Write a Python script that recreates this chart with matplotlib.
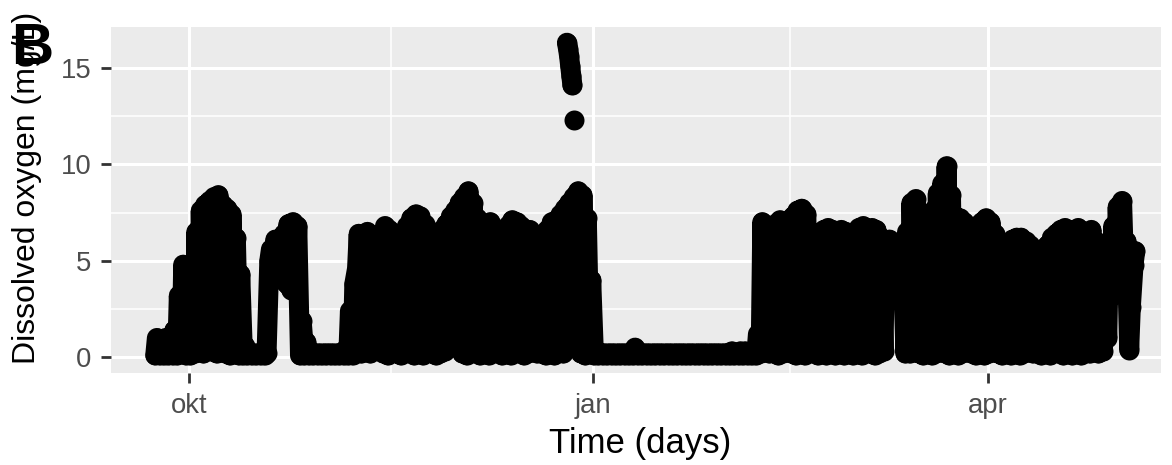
import numpy as np
import matplotlib
matplotlib.use("Agg")
import matplotlib.pyplot as plt

plt.rcParams['font.family'] = ['Liberation Sans', 'DejaVu Sans']

# daily readings, dissolved oxygen (mg/L), starting 2016-09-23
first_day = np.datetime64("2016-09-23")

do_high = [
    # sep 23-30
    1.0, 0.7, 1.0, 0.5, 1.4, 3.2, 4.8, 1.2,
    # oct
    0.9, 6.5, 7.6, 7.9, 8.1, 8.3, 8.4, 7.9, 7.7, 7.4, 6.2, 4.3, 0.6,
    0.2, 0.2, 0.2, 0.2, 0.2, 5.6, 6.1, 5.9, 6.4, 6.9, 7.0, 6.8, 1.9, 0.8,
    0.2, 0.2, 0.2, 0.2,
    # nov
    0.2, 0.2, 0.2, 0.2, 0.4, 2.4, 3.8, 6.4, 3.4, 6.5, 6.0, 6.3, 6.2,
    6.8, 6.6, 6.0, 5.8, 6.2, 6.8, 7.2, 7.4, 7.3, 6.9, 6.3, 6.0, 6.4, 6.6, 6.9,
    7.3, 7.6,
    # dec
    8.0, 8.3, 8.6, 8.0, 7.2, 6.8, 6.9, 7.0, 6.6, 6.4, 6.5, 6.8, 7.1, 7.0, 6.8,
    6.5, 6.6, 5.8, 4.4, 6.0, 6.6, 7.0, 7.1, 7.4, 7.7, 8.0, 8.3, 8.6, 8.4, 7.2, 4.0,
    # jan
    0.2, 0.2, 0.2, 0.2, 0.2, 0.2, 0.2, 0.2, 0.2, 0.5, 0.2, 0.2, 0.2, 0.2, 0.2, 0.2,
    0.2, 0.2, 0.2, 0.2, 0.2, 0.2, 0.2, 0.2, 0.2, 0.2, 0.2, 0.2, 0.2, 0.2, 0.2,
    # feb
    0.3, 0.2, 0.3, 0.3, 0.2, 0.3, 1.2,
    7.0, 6.8, 6.6, 6.9, 7.1, 7.0, 6.8, 7.3, 7.6, 7.7, 7.4, 6.4, 6.2, 6.4, 6.6,
    6.7, 6.6, 6.3, 6.6, 6.5, 6.2,
    # mar
    6.4, 6.7, 6.8, 6.6, 6.7, 6.6, 6.2, 6.0, 6.1, 5.9, 5.3, 5.0,
    6.5, 8.0, 8.2, 7.2, 7.0, 7.3, 7.6, 8.5, 9.0, 9.9, 8.4, 7.3, 7.2, 7.0, 6.6,
    6.4, 6.8, 7.0, 7.2,
    # apr
    7.0, 6.4, 6.0, 5.6, 5.9, 6.1, 6.2, 6.2, 6.0, 5.8, 5.6, 5.2, 5.0, 5.8, 6.2,
    6.4, 6.6, 6.7, 6.5, 6.6, 6.7, 6.4, 6.2, 6.6, 6.0, 5.6, 4.9, 5.5, 6.8, 7.8,
    # may 1-4
    8.1, 6.0, 2.6, 5.5,
]

do_low = [
    # sep 23-30
    0.1, 0.1, 0.1, 0.1, 0.1, 0.1, 0.2, 0.1,
    # oct
    0.1, 0.2, 0.3, 0.2, 0.4, 0.3, 0.2, 0.3, 0.2, 0.1, 0.2, 0.1, 0.1,
    0.1, 0.1, 0.1, 0.1, 0.1, 5.0, 5.0, 5.2, 4.6, 3.8, 3.5, 3.5, 0.1, 0.1,
    0.1, 0.1, 0.1, 0.1,
    # nov
    0.1, 0.1, 0.1, 0.1, 0.1, 0.1, 0.1, 4.6, 0.2, 4.4, 0.2, 2.2, 2.0,
    0.2, 0.1, 0.3, 0.2, 0.1, 0.2, 0.3, 0.1, 0.2, 0.1, 0.3, 0.2, 0.1, 0.2, 0.3,
    3.6, 3.4,
    # dec
    3.6, 0.2, 0.1, 0.2, 0.3, 0.1, 0.2, 0.1, 0.2, 0.3, 0.1, 0.2, 0.1, 0.2, 0.3,
    0.1, 0.2, 0.3, 0.2, 0.2, 0.1, 0.2, 0.1, 0.3, 0.2, 2.4, 2.2, 2.6, 0.2, 0.1, 0.2,
    # jan
    0.1, 0.1, 0.1, 0.1, 0.1, 0.1, 0.1, 0.1, 0.1, 0.1, 0.1, 0.1, 0.1, 0.1, 0.1, 0.1,
    0.1, 0.1, 0.1, 0.1, 0.1, 0.1, 0.1, 0.1, 0.1, 0.1, 0.1, 0.1, 0.1, 0.1, 0.1,
    # feb
    0.1, 0.1, 0.1, 0.1, 0.1, 0.1, 0.1,
    0.2, 0.3, 0.2, 0.2, 0.1, 0.2, 0.3, 0.2, 0.1, 0.2, 0.1, 0.2, 0.3, 0.1, 0.2,
    0.1, 0.2, 0.1, 0.2, 0.1, 0.2,
    # mar
    0.1, 0.2, 0.1, 0.3, 0.2, 0.1, 0.2, 0.3, 4.8, 4.6, 4.0, 3.6,
    0.2, 0.2, 0.3, 0.2, 0.1, 0.2, 0.1, 0.2, 0.3, 0.2, 0.1, 0.2, 0.1, 0.2, 0.3,
    0.2, 0.1, 0.2, 0.1,
    # apr
    0.2, 0.3, 0.2, 0.1, 0.2, 0.1, 0.2, 0.1, 0.2, 0.3, 0.2, 0.2, 0.1, 0.2, 0.1,
    0.3, 0.2, 0.1, 0.2, 0.1, 0.2, 0.1, 0.2, 0.2, 0.3, 0.2, 0.3, 1.0, 3.2, 4.0,
    # may 1-4
    4.1, 3.5, 0.4, 4.8,
]

# sensor spike around christmas
spike_time = np.array(["2016-12-26T02:00", "2016-12-26T08:00", "2016-12-26T14:00",
                       "2016-12-26T20:00", "2016-12-27T02:00", "2016-12-27T08:00"],
                      dtype="datetime64[m]")
spike_do = [16.3, 16.0, 15.6, 15.1, 14.6, 14.1]
lone_time = np.array(["2016-12-27T17:00"], dtype="datetime64[m]")
lone_do = [12.3]

tick_dates = np.array(["2016-10-01", "2017-01-01", "2017-04-01"], dtype="datetime64[m]")
tick_labels = ["okt", "jan", "apr"]
minor_dates = np.array(["2016-11-16", "2017-02-15"], dtype="datetime64[m]")

# low reading early morning, high reading mid afternoon
days = (first_day + np.arange(len(do_high))).astype("datetime64[m]")
t = np.empty(2 * len(days), dtype="datetime64[m]")
t[0::2] = days + np.timedelta64(6 * 60, "m")
t[1::2] = days + np.timedelta64(15 * 60, "m")
v = np.empty(2 * len(days))
v[0::2] = do_low
v[1::2] = do_high

W, H = 1172, 465
fig = plt.figure(figsize=(W / 100, H / 100), dpi=100)
ax = fig.add_axes([111 / W, 1 - 373 / H, (1161 - 111) / W, (373 - 27) / H])
ax.set_facecolor("#EBEBEB")
for s in ax.spines.values():
    s.set_visible(False)

ms = 14.4
style = dict(color="black", lw=ms, marker="o", ms=ms, mew=0,
             solid_joinstyle="round", solid_capstyle="round")
ax.plot(t, v, **style)
ax.plot(spike_time, spike_do, **style)
ax.plot(lone_time, lone_do, "o", color="black", ms=ms, mew=0)

ax.set_xlim(np.datetime64("2016-09-13T04:00"), np.datetime64("2017-05-10T12:00"))
ax.set_ylim(-0.815, 17.115)

ax.set_xticks(tick_dates)
ax.set_xticklabels(tick_labels)
ax.set_xticks(minor_dates, minor=True)
ax.set_yticks([0, 5, 10, 15])
ax.set_yticks([2.5, 7.5, 12.5], minor=True)
ax.set_axisbelow(True)
ax.grid(which="major", color="white", lw=2.2)
ax.grid(which="minor", color="white", lw=1.1)
ax.tick_params(which="major", length=7.2, width=2.0, color="#333333",
               labelcolor="#4D4D4D", labelsize=19.8, pad=7)
ax.tick_params(which="minor", length=0)

fig.text(640 / W, 1 - 443 / H, "Time (days)", ha="center", va="center", size=25)
fig.text(27 / W, 1 - 188 / H, "Dissolved oxygen (mg/L)", rotation=90,
         ha="center", va="center", size=23)
fig.text(11 / W, 1 - 22 / H, "B", ha="left", va="top", size=42, weight="bold")

fig.savefig("out.png", dpi=100)
